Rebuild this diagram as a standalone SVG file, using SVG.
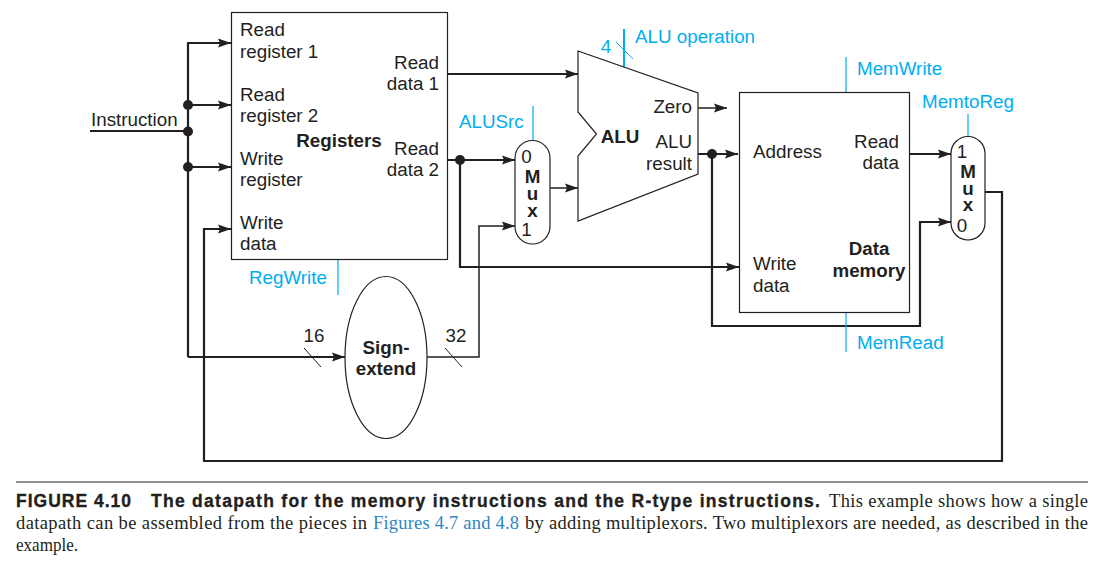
<svg xmlns="http://www.w3.org/2000/svg" width="1102" height="575" viewBox="0 0 1102 575">
<style>
text{font-family:"Liberation Sans",Arial,sans-serif;font-size:18.8px;fill:#231f20}
.b{font-weight:bold}
.c{fill:#00aeef}
.m{text-anchor:middle}
.e{text-anchor:end}
.box{fill:#fff;stroke:#231f20;stroke-width:1.2}
.w{fill:none;stroke:#231f20;stroke-width:2.2}
.wt{fill:none;stroke:#231f20;stroke-width:1.5}
.ctl{fill:none;stroke:#00aeef;stroke-width:1.2}
.s{fill:none;stroke:#231f20;stroke-width:1}
text.cap{font-family:"Liberation Serif",serif;font-size:18.5px}
text.capb{font-family:"Liberation Sans",sans-serif;font-size:17.5px;font-weight:bold;stroke:#231f20;stroke-width:.35}
</style>
<defs>
<marker id="a" markerUnits="userSpaceOnUse" markerWidth="14" markerHeight="10" refX="13" refY="5" orient="auto"><path d="M0 0.500L13 5L0 9.500L2 5Z" fill="#231f20"/></marker>
</defs>
<g id="connectors">
<path class="w" d="M90 131H188"/>
<path class="w" d="M188 357V43H231" marker-end="url(#a)"/>
<path class="w" d="M188 105H231" marker-end="url(#a)"/>
<path class="w" d="M188 167H231" marker-end="url(#a)"/>
<path class="w" d="M188 357H345" marker-end="url(#a)"/>
<path class="w" d="M985 192H1002V461H204V229H231" marker-end="url(#a)"/>
<path class="w" d="M447 74H578" marker-end="url(#a)"/>
<path class="w" d="M447 160H515" marker-end="url(#a)"/>
<path class="w" d="M460 160V267H739" marker-end="url(#a)"/>
<path class="wt" d="M550 188H578" marker-end="url(#a)"/>
<path class="wt" d="M427 357H479V226H515" marker-end="url(#a)"/>
<path class="wt" d="M698 108H727" marker-end="url(#a)"/>
<path class="w" d="M698 154H738" marker-end="url(#a)"/>
<path class="w" d="M712 154V326H920V222H951" marker-end="url(#a)"/>
<path class="w" d="M910 154H951" marker-end="url(#a)"/>
<circle cx="188" cy="105" r="5" fill="#231f20"/>
<circle cx="188" cy="131.500" r="5" fill="#231f20"/>
<circle cx="188" cy="167" r="5" fill="#231f20"/>
<circle cx="460" cy="160" r="5" fill="#231f20"/>
<circle cx="712" cy="154" r="5" fill="#231f20"/>
<path class="s" d="M304 348L321 367M445 348L462 367"/>
<path class="s" style="stroke:#00aeef" d="M616 42L633 59"/>
<path class="ctl" style="stroke-width:2" d="M624 29V67"/>
<path class="ctl" d="M338 260V295M533 106V140M846 57V92M846 313V352M968 114V136"/>
</g>
<text x="91" y="126">Instruction</text>
<text x="314" y="342" class="m">16</text>
<text x="456" y="342" class="m">32</text>
<g id="registers">
<rect class="box" x="231.500" y="12.500" width="216" height="247"/>
<text x="240" y="36">Read</text><text x="240" y="58">register 1</text>
<text x="240" y="101">Read</text><text x="240" y="122">register 2</text>
<text x="240" y="165">Write</text><text x="240" y="186">register</text>
<text x="240" y="229">Write</text><text x="240" y="250">data</text>
<text x="439" y="69" class="e">Read</text><text x="439" y="90" class="e">data 1</text>
<text x="439" y="155" class="e">Read</text><text x="439" y="176" class="e">data 2</text>
<text x="339" y="147" class="b m">Registers</text>
</g>
<g id="regwrite"><text x="249" y="284" class="c">RegWrite</text></g>
<g id="alusrc"><text x="459" y="128" class="c">ALUSrc</text></g>
<g id="mux1">
<rect class="box" x="515" y="140.500" width="35" height="103.500" rx="17.500"/>
<text x="526.500" y="163" class="m">0</text>
<text x="532.500" y="183" class="b m">M</text><text x="532.500" y="200" class="b m">u</text><text x="532.500" y="217" class="b m">x</text>
<text x="526.500" y="236" class="m">1</text>
</g>
<g id="alu">
<path class="box" d="M578 51L698 93V174L578 221V156L596.500 134L578 112Z"/>
<text x="620" y="143" class="b m">ALU</text>
<text x="692" y="113" class="e">Zero</text>
<text x="692" y="148" class="e">ALU</text><text x="692" y="170" class="e">result</text>
</g>
<g id="aluop"><text x="606" y="53" class="c m">4</text><text x="635" y="43" class="c">ALU operation</text></g>
<g id="memory">
<rect class="box" x="739.500" y="92.500" width="170" height="220"/>
<text x="753" y="158">Address</text>
<text x="899" y="148" class="e">Read</text><text x="899" y="169" class="e">data</text>
<text x="753" y="270">Write</text><text x="753" y="292">data</text>
<text x="869" y="255" class="b m">Data</text><text x="869" y="277" class="b m">memory</text>
</g>
<g id="memlabels"><text x="857" y="75" class="c">MemWrite</text><text x="857" y="349" class="c">MemRead</text><text x="922" y="108" class="c">MemtoReg</text></g>
<g id="mux2">
<rect class="box" x="951" y="136.500" width="34" height="103.500" rx="17"/>
<text x="962" y="158" class="m">1</text>
<text x="968" y="178" class="b m">M</text><text x="968" y="195" class="b m">u</text><text x="968" y="211" class="b m">x</text>
<text x="962" y="232" class="m">0</text>
</g>
<g id="signext">
<ellipse class="box" cx="386" cy="357.500" rx="41" ry="81"/>
<text x="386" y="354" class="b m">Sign-</text><text x="386" y="375" class="b m">extend</text>
</g>
<g id="caption">
<path d="M16 482H1088" stroke="#231f20" stroke-width="1.200"/>
<text class="capb" x="16" y="507" textLength="115" lengthAdjust="spacing">FIGURE 4.10</text>
<text class="capb" x="151" y="507" textLength="669" lengthAdjust="spacing">The datapath for the memory instructions and the R-type instructions.</text>
<text class="cap" x="829" y="507" textLength="259" lengthAdjust="spacing">This example shows how a single</text>
<text class="cap" x="16" y="529" textLength="351" lengthAdjust="spacing">datapath can be assembled from the pieces in</text>
<text class="cap" x="373" y="529" textLength="146" lengthAdjust="spacing" style="fill:#2e86c1">Figures 4.7 and 4.8</text>
<text class="cap" x="525" y="529" textLength="563" lengthAdjust="spacing">by adding multiplexors. Two multiplexors are needed, as described in the</text>
<text class="cap" x="16" y="551" textLength="62" lengthAdjust="spacingAndGlyphs">example.</text>
</g>
</svg>
